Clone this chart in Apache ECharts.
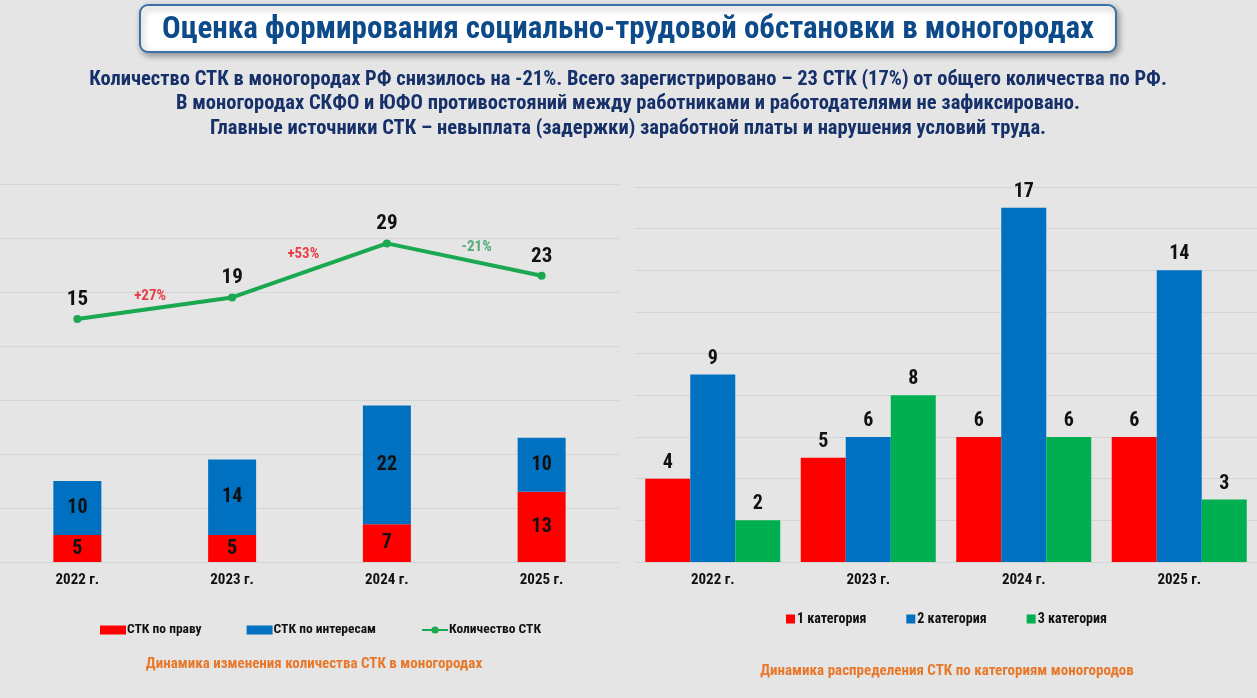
<!DOCTYPE html>
<html>
<head>
<meta charset="utf-8">
<script src="https://cdn.jsdelivr.net/npm/echarts@6/dist/echarts.min.js"></script>
<style>
  html, body { margin: 0; padding: 0; background: #e5e5e5; }
  #chart { width: 1257px; height: 698px; }
</style>
</head>
<body>
<div id="chart"></div>
<script>
// данные
var years = ['2022 г.', '2023 г.', '2024 г.', '2025 г.'];
var stkPravo = [5, 5, 7, 13];
var stkInteres = [10, 14, 22, 10];
var stkTotal = [15, 19, 29, 23];
// подписи прироста между годами: [x, y, текст]
var growthLabels = [[0.47, 19.3, '+27%'], [1.46, 27, '+53%'], [2.58, 28.3, '-21%']];
var cat1 = [4, 5, 6, 6];
var cat2 = [9, 6, 17, 14];
var cat3 = [2, 8, 6, 3];

var NARROW = '"Roboto Condensed", "Open Sans Condensed", "Liberation Sans", sans-serif';
var myChart = echarts.init(document.getElementById('chart'));

var barLabel = {
    show: true,
    fontFamily: NARROW,
    fontSize: 20,
    fontWeight: 'bold',
    color: '#111'
};

var growthData = growthLabels.map(function (g) {
    return {
        value: g,
        label: { color: g[2].charAt(0) === '-' ? '#2e9e5a' : '#e8141c' }
    };
});

var option = {
    backgroundColor: '#e5e5e5',
    animation: false,
    color: ['#ff0000', '#0070c0', '#00a84f'],
    graphic: [
        {
            type: 'rect',
            shape: { x: 140, y: 5, width: 976, height: 47, r: 8 },
            style: {
                fill: '#ffffff', stroke: '#3c6fa6', lineWidth: 2,
                shadowBlur: 6, shadowColor: 'rgba(0,0,0,0.35)', shadowOffsetX: 2, shadowOffsetY: 3
            }
        },
        {
            type: 'text', x: 628, y: 30,
            style: {
                text: 'Оценка формирования социально-трудовой обстановки в моногородах',
                fill: '#0d4a8a', font: 'bold 31px ' + NARROW,
                textAlign: 'center', textVerticalAlign: 'middle'
            }
        },
        {
            type: 'text', x: 628, y: 104,
            style: {
                text: 'Количество СТК в моногородах РФ снизилось на -21%. Всего зарегистрировано – 23 СТК (17%) от общего количества по РФ.\n' +
                    'В моногородах СКФО и ЮФО противостояний между работниками и работодателями не зафиксировано.\n' +
                    'Главные источники СТК – невыплата (задержки) заработной платы и нарушения условий труда.',
                fill: '#16306a', font: 'bold 20.5px ' + NARROW,
                lineHeight: 24.5, textAlign: 'center', textVerticalAlign: 'middle'
            }
        },
        {
            type: 'text', x: 314, y: 664,
            style: {
                text: 'Динамика изменения количества СТК в моногородах',
                fill: '#e8782a', font: 'bold 15px ' + NARROW,
                textAlign: 'center', textVerticalAlign: 'middle'
            }
        },
        {
            type: 'text', x: 947, y: 671,
            style: {
                text: 'Динамика распределения СТК по категориям моногородов',
                fill: '#e8782a', font: 'bold 15px ' + NARROW,
                textAlign: 'center', textVerticalAlign: 'middle'
            }
        }
    ],
    legend: [
        {
            left: 95, top: 618,
            itemWidth: 26, itemHeight: 9, itemGap: 45,
            textStyle: { fontFamily: NARROW, fontSize: 13.5, fontWeight: 'bold', color: '#111', padding: [0, 0, 0, -4] },
            data: [
                { name: 'СТК по праву', icon: 'rect' },
                { name: 'СТК по интересам', icon: 'rect' },
                { name: 'Количество СТК' }
            ]
        },
        {
            left: 781, top: 607,
            itemWidth: 9, itemHeight: 9, itemGap: 40,
            textStyle: { fontFamily: NARROW, fontSize: 14, fontWeight: 'bold', color: '#111', padding: [0, 0, 0, -3] },
            data: [
                { name: '1 категория', icon: 'rect' },
                { name: '2 категория', icon: 'rect' },
                { name: '3 категория', icon: 'rect' }
            ]
        }
    ],
    grid: [
        { left: -3, top: 184, width: 622, height: 378 },
        { left: 635, top: 187, width: 622, height: 375 }
    ],
    xAxis: [
        {
            type: 'category', gridIndex: 0, data: years,
            axisLine: { show: false }, axisTick: { show: false },
            axisLabel: { fontFamily: NARROW, fontSize: 15, fontWeight: 'bold', color: '#111', margin: 11 }
        },
        {
            type: 'value', gridIndex: 0, min: -0.5, max: 3.5, show: false
        },
        {
            type: 'category', gridIndex: 1, data: years,
            axisLine: { show: false }, axisTick: { show: false },
            axisLabel: { fontFamily: NARROW, fontSize: 15, fontWeight: 'bold', color: '#111', margin: 11 }
        }
    ],
    yAxis: [
        {
            type: 'value', gridIndex: 0, min: 0, max: 70, interval: 10,
            axisLabel: { show: false }, axisLine: { show: false }, axisTick: { show: false },
            splitLine: { lineStyle: { color: '#d5d5d5' } }
        },
        {
            type: 'value', gridIndex: 0, min: -30, max: 40, interval: 10, show: false,
            splitLine: { show: false }
        },
        {
            type: 'value', gridIndex: 1, min: 0, max: 18, interval: 2,
            axisLabel: { show: false }, axisLine: { show: false }, axisTick: { show: false },
            splitLine: { lineStyle: { color: '#d5d5d5' } }
        }
    ],
    series: [
        {
            name: 'СТК по праву', type: 'bar', stack: 'stk', barWidth: 48,
            xAxisIndex: 0, yAxisIndex: 0, data: stkPravo,
            itemStyle: { color: '#ff0000' },
            label: Object.assign({ position: 'inside' }, barLabel)
        },
        {
            name: 'СТК по интересам', type: 'bar', stack: 'stk', barWidth: 48,
            xAxisIndex: 0, yAxisIndex: 0, data: stkInteres,
            itemStyle: { color: '#0070c0' },
            label: Object.assign({ position: 'inside' }, barLabel)
        },
        {
            name: 'Количество СТК', type: 'line',
            xAxisIndex: 0, yAxisIndex: 1, data: stkTotal,
            symbol: 'circle', symbolSize: 8,
            lineStyle: { width: 4, color: '#1aa851' },
            itemStyle: { color: '#1aa851' },
            label: Object.assign({ position: 'top', distance: 5 }, barLabel, { fontSize: 21 })
        },
        {
            type: 'scatter', xAxisIndex: 1, yAxisIndex: 1,
            symbolSize: 0, silent: true,
            data: growthData,
            label: {
                show: true, position: 'inside',
                fontFamily: NARROW, fontSize: 15, fontWeight: 'bold',
                formatter: function (p) { return p.value[2]; }
            }
        },
        {
            name: '1 категория', type: 'bar', barWidth: 45, barGap: '0%',
            xAxisIndex: 2, yAxisIndex: 2, data: cat1,
            itemStyle: { color: '#ff0000' },
            label: Object.assign({ position: 'top', distance: 6 }, barLabel)
        },
        {
            name: '2 категория', type: 'bar', barWidth: 45, barGap: '0%',
            xAxisIndex: 2, yAxisIndex: 2, data: cat2,
            itemStyle: { color: '#0070c0' },
            label: Object.assign({ position: 'top', distance: 6 }, barLabel)
        },
        {
            name: '3 категория', type: 'bar', barWidth: 45, barGap: '0%',
            xAxisIndex: 2, yAxisIndex: 2, data: cat3,
            itemStyle: { color: '#00b050' },
            label: Object.assign({ position: 'top', distance: 6 }, barLabel)
        }
    ]
};

myChart.setOption(option);
</script>
</body>
</html>
